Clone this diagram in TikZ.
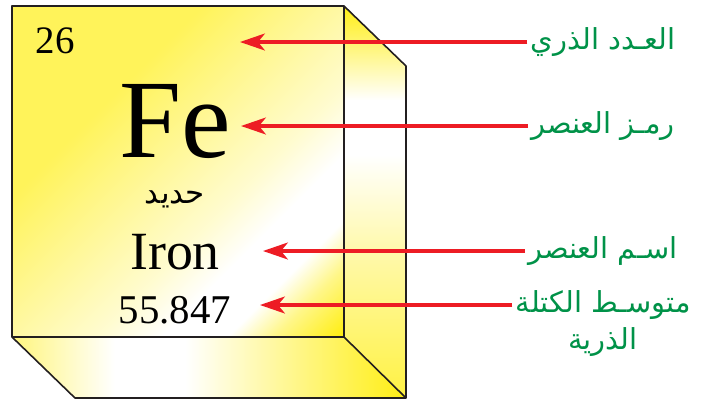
\documentclass[tikz,border=0pt]{standalone}
\usepackage{fontspec}
\setmainfont{Liberation Serif}
\newfontfamily\arabicfont[Script=Arabic]{DejaVu Sans}
\TeXXeTstate=1
\usepackage{xcolor}
\usetikzlibrary{arrows.meta, positioning, calc}

\definecolor{cubeyellow}{RGB}{255,238,20}
\definecolor{edgegray}{RGB}{35,31,32}
\definecolor{ptrred}{RGB}{237,28,36}
\definecolor{lblgreen}{RGB}{0,146,72}

% shadings for the faces of the cube
\pgfdeclareverticalshading{frontshade}{100bp}{color(0bp)=(cubeyellow); color(15bp)=(cubeyellow); color(22bp)=(cubeyellow!50); color(27bp)=(white); color(34bp)=(white); color(41bp)=(cubeyellow!20); color(65bp)=(cubeyellow!70); color(100bp)=(cubeyellow!70)}
\pgfdeclareverticalshading{sideshade}{100bp}{color(0bp)=(cubeyellow!80); color(25bp)=(cubeyellow!80); color(44bp)=(cubeyellow!35); color(56bp)=(white); color(63bp)=(white); color(75bp)=(cubeyellow); color(100bp)=(cubeyellow)}
\pgfdeclarehorizontalshading{baseshade}{100bp}{color(0bp)=(cubeyellow!55); color(25bp)=(cubeyellow!55); color(38bp)=(white); color(47bp)=(white); color(75bp)=(cubeyellow); color(100bp)=(cubeyellow)}

\tikzset{
  edge/.style={draw=edgegray, line width=1.6pt, line join=round},
  ptr/.style={draw=ptrred, line width=3.2pt, -{Stealth[length=25pt,width=17pt,inset=7pt]}},
  lbl/.style={font=\arabicfont\fontsize{29}{32}\selectfont, text=lblgreen, inner sep=3pt},
}

\begin{document}
\begin{tikzpicture}[x=1bp, y=-1bp]
\useasboundingbox (0,0) rectangle (703,403);

% Cube faces
\shade[shading=frontshade, shading angle=45] (12,6) rectangle (344,337);
\shade[shading=sideshade] (344,6) -- (406,66) -- (406,398) -- (344,337) -- cycle;
\shade[shading=baseshade] (12,337) -- (344,337) -- (406,398) -- (75,398) -- cycle;

% Edges
\draw[edge] (12,6) rectangle (344,337);
\draw[edge] (344,6) -- (406,66) -- (406,398) -- (75,398) -- (12,337);
\draw[edge] (344,337) -- (406,398);

% Element data
\node[font=\fontsize{39}{40}\selectfont] (number) at (55,41) {26};
\node[font=\fontsize{112}{112}\selectfont] (symbol) at (175,122) {Fe};
\node[font=\arabicfont\fontsize{31}{33}\selectfont] (arname) at (175,199) {\beginR حديد\endR};
\node[font=\fontsize{54}{54}\selectfont] (name) at (175,252) {Iron};
\node[font=\fontsize{41}{41}\selectfont] (mass) at (175,310) {55.847};

% Labels
\node[lbl] (numlbl) at (603,42) {\beginR العـدد الذري\endR};
\node[lbl] (symlbl) at (603,126) {\beginR رمـز العنصر\endR};
\node[lbl] (namelbl) at (603,251) {\beginR اسـم العنصر\endR};
\node[lbl] (masslbl) at (603,305) {\beginR متوسـط الكتلة\endR};
\node[lbl, below=2pt of masslbl] (masslbl2) {\beginR الذرية\endR};

% Arrow tips
\coordinate (numtip) at (240,43);
\coordinate (symtip) at (241,127);
\coordinate (nametip) at (263,252);
\coordinate (masstip) at (260,307);

\draw[ptr] (numlbl.west) -- (numlbl.west -| numtip);
\draw[ptr] (symlbl.west) -- (symlbl.west -| symtip);
\draw[ptr] (namelbl.west) -- (namelbl.west -| nametip);
\draw[ptr] (masslbl.west) -- (masslbl.west -| masstip);

\end{tikzpicture}
\end{document}
